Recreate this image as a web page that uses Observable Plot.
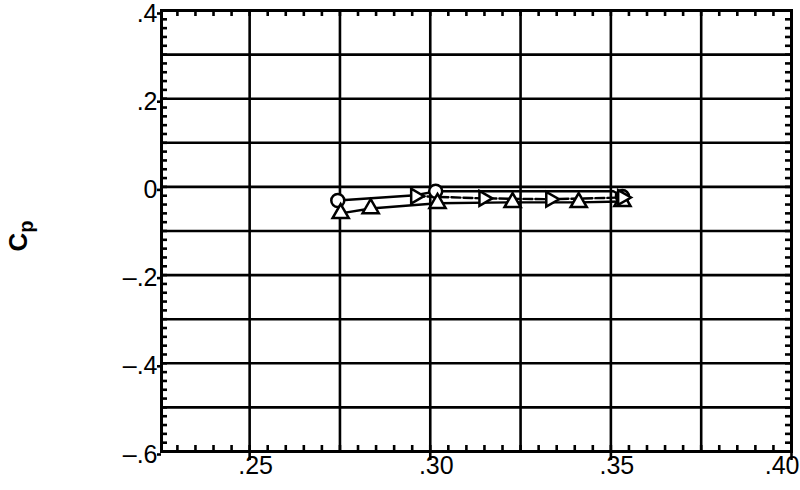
<!DOCTYPE html>
<html><head><meta charset="utf-8">
<script src="https://cdn.jsdelivr.net/npm/d3@7"></script>
<script src="https://cdn.jsdelivr.net/npm/@observablehq/plot@0.6"></script>
<style>body{margin:0;background:#fff}</style>
</head><body><div id="chart"></div>
<script>
// axis ticks and labels
const xTickVals = [0.25, 0.30, 0.35, 0.40];
const xTickLabels = [".25", ".30", ".35", ".40"];
const yTickVals = [-0.6, -0.4, -0.2, 0, 0.2, 0.4];
const yTickLabels = ["–.6", "–.4", "–.2", "0", ".2", ".4"];
const xGrid = [0.25, 0.275, 0.30, 0.325, 0.35, 0.375];
const yGrid = [-0.5, -0.4, -0.3, -0.2, -0.1, 0, 0.1, 0.2, 0.3];
const xMinor = d3.range(0.23, 0.4, 0.005).map(v => +v.toFixed(3));
const yMinor = d3.range(-0.58, 0.4, 0.02).map(v => +v.toFixed(2));

// series: circles (solid line)
const circX = [0.2744, 0.2959, 0.3015, 0.3507, 0.3532];
const circY = [-0.031, -0.019, -0.010, -0.010, -0.022];
const circMark = [true, false, true, false, true];
// series: triangles
const triX = [0.2752, 0.2835, 0.3020, 0.3228, 0.3411, 0.3532];
const triY = [-0.060, -0.049, -0.037, -0.035, -0.035, -0.033];
// series: flagged triangles (dashed line)
const flagX = [0.2959, 0.3148, 0.3333, 0.3532];
const flagY = [-0.021, -0.026, -0.028, -0.024];

const circ = circX.map((x, i) => ({x, y: circY[i], m: circMark[i]}));
const tri = triX.map((x, i) => ({x, y: triY[i]}));
const flag = flagX.map((x, i) => ({x, y: flagY[i]}));

const W = 800, H = 490, mL = 161, mR = 9, mT = 10, mB = 39;
const iW = W - mL - mR, iH = H - mT - mB;
const tick = 6;
const sw = 2.6;

const chart = Plot.plot({
  width: W, height: H,
  marginLeft: mL, marginRight: mR, marginTop: mT, marginBottom: mB,
  x: {domain: [0.2256, 0.40]},
  y: {domain: [-0.6, 0.4]},
  style: {background: "white", color: "black", fontFamily: "Liberation Sans, Arial, sans-serif"},
  marks: [
    Plot.ruleX(xGrid, {stroke: "black", strokeWidth: sw}),
    Plot.ruleY(yGrid, {stroke: "black", strokeWidth: sw}),
    Plot.ruleX(xMinor, {stroke: "black", strokeWidth: sw, insetTop: iH - tick}),
    Plot.ruleX(xMinor, {stroke: "black", strokeWidth: sw, insetBottom: iH - tick}),
    Plot.ruleY(yMinor, {stroke: "black", strokeWidth: sw, insetRight: iW - tick}),
    Plot.ruleY(yMinor, {stroke: "black", strokeWidth: sw, insetLeft: iW - tick}),
    Plot.frame({stroke: "black", strokeWidth: 3}),
    Plot.axisX(xTickVals, {tickSize: 9, strokeWidth: sw, tickFormat: () => "", label: null}),
    Plot.axisY(yTickVals, {tickSize: 4, tickPadding: 0, strokeWidth: sw, label: null,
      tickFormat: d => yTickLabels[yTickVals.indexOf(d)], fontSize: 25, dy: 3,
      style: {letterSpacing: "5px"}}),
    Plot.text(xTickVals.slice(0, -1), {x: d => d, text: (d, i) => xTickLabels[i],
      frameAnchor: "bottom", dy: 22, dx: 6, fontSize: 25}),
    Plot.text(xTickVals.slice(-1), {x: d => d, text: () => xTickLabels[xTickLabels.length - 1],
      frameAnchor: "bottom", dy: 22, dx: 8, textAnchor: "end", fontSize: 25}),
    // data
    Plot.line(circ, {x: "x", y: "y", stroke: "black", strokeWidth: 2.4}),
    Plot.line(tri, {x: "x", y: "y", stroke: "black", strokeWidth: 2.4}),
    Plot.line(flag, {x: "x", y: "y", stroke: "black", strokeWidth: 2.4, strokeDasharray: "9,3"}),
    Plot.dot(circ, {filter: d => d.m, x: "x", y: "y", symbol: "circle", r: 6.5, stroke: "black", strokeWidth: 2.5, fill: "white"}),
    Plot.dot(tri, {x: "x", y: "y", symbol: "triangle", r: 6, stroke: "black", strokeWidth: 2.5, fill: "white"}),
    Plot.dot(flag, {x: "x", y: "y", symbol: "triangle", rotate: 90, r: 5.5, stroke: "black", strokeWidth: 2.5, fill: "white"})
  ]
});
document.getElementById("chart").appendChild(chart);

// y-axis title with subscript
const svg = d3.select(chart);
const t = svg.append("text")
  .attr("transform", "translate(27,236) rotate(-90)")
  .attr("text-anchor", "middle")
  .attr("font-family", "Liberation Sans, Arial, sans-serif")
  .attr("font-size", 26).attr("font-weight", "bold").attr("fill", "black");
t.append("tspan").text("C");
t.append("tspan").attr("font-size", 20).attr("dy", 6).text("p");
</script></body></html>
